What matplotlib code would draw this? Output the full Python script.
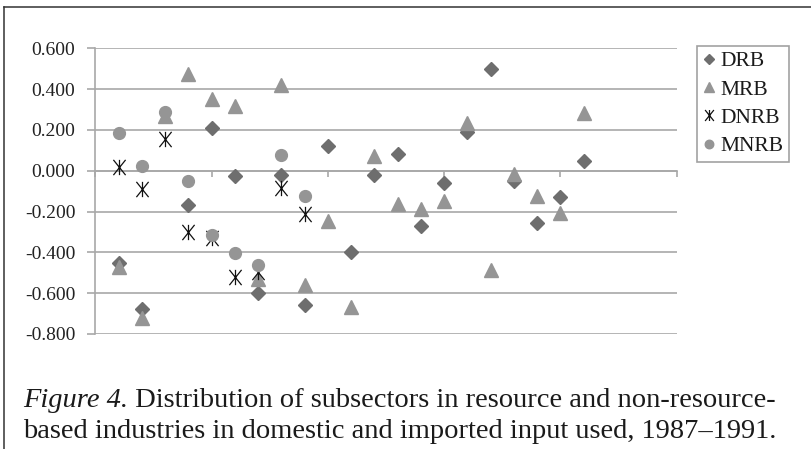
import numpy as np
import matplotlib
matplotlib.use("Agg")
import matplotlib.pyplot as plt
from matplotlib.path import Path
from matplotlib.lines import Line2D

plt.rcParams['axes.unicode_minus'] = False
plt.rcParams['font.family'] = ['Liberation Serif', 'DejaVu Serif']

nan = np.nan
# category positions (1..21) on a 0..25 value axis
positions = list(range(1, 22))
DRB = [-0.45, -0.68, nan, -0.17, 0.21, -0.025, -0.60, -0.02, -0.66, 0.12, -0.40,
       -0.02, 0.08, -0.27, -0.06, 0.19, 0.50, -0.05, -0.255, -0.13, 0.05]
MRB = [-0.47, -0.72, 0.27, 0.475, 0.35, 0.315, -0.53, 0.42, -0.56, -0.245, -0.67,
       0.07, -0.165, -0.19, -0.15, 0.235, -0.485, -0.015, -0.125, -0.205, 0.285]
DNRB = [0.02, -0.09, 0.155, -0.30, -0.33, -0.52, -0.495, -0.085, -0.21]
MNRB = [0.183, 0.023, 0.29, -0.05, -0.315, -0.405, -0.46, 0.075, -0.125]
series_names = ['DRB', 'MRB', 'DNRB', 'MNRB']
y_ticks = [-0.8, -0.6, -0.4, -0.2, 0.0, 0.2, 0.4, 0.6]
x_ticks = [0, 5, 10, 15, 20, 25]
caption_italic = "Figure 4."
caption_line1 = " Distribution of subsectors in resource and non-resource-"
caption_line2 = "based industries in domestic and imported input used, 1987\u20131991."

W, H = 811, 449
fig = plt.figure(figsize=(W / 100, H / 100), dpi=100)

# page frame lines (top and left)
fig.add_artist(Line2D([4 / W, 1.0], [1 - 7 / H, 1 - 7 / H], transform=fig.transFigure,
                      color='#333333', lw=1.1))
fig.add_artist(Line2D([4 / W, 4 / W], [0.0, 1 - 7 / H], transform=fig.transFigure,
                      color='#333333', lw=1.1))

left, right = 95.4, 676.7
top, bottom = 48.3, 333.9
ax = fig.add_axes([left / W, 1 - bottom / H, (right - left) / W, (bottom - top) / H])
ax.set_xlim(0, 25)
ax.set_ylim(-0.8, 0.6)

grid_c = '#a8a8a8'
ax.set_yticks(y_ticks)
ax.set_yticklabels([f"{v:.3f}" for v in y_ticks], fontsize=14, color='#222222')
ax.yaxis.grid(True, color=grid_c, lw=1.2)
ax.set_axisbelow(True)
ax.tick_params(axis='y', direction='out', length=5.5, width=1.2, color=grid_c, pad=9)
ax.set_xticks(x_ticks)
ax.set_xticklabels([])
ax.tick_params(axis='x', direction='out', length=4.5, width=1.2, color=grid_c)
for s in ['top', 'right']:
    ax.spines[s].set_visible(False)
ax.spines['left'].set_color(grid_c)
ax.spines['left'].set_linewidth(1.2)
ax.spines['bottom'].set_position(('data', 0))
ax.spines['bottom'].set_color(grid_c)
ax.spines['bottom'].set_linewidth(1.2)

star = Path([(-0.8, -1), (0.8, 1), (-0.8, 1), (0.8, -1), (0, -1), (0, 1)],
            [Path.MOVETO, Path.LINETO, Path.MOVETO, Path.LINETO, Path.MOVETO, Path.LINETO])

ax.plot(positions, DRB, ls='none', marker='D', ms=7.3, color='#6e6e6e', mec='#6e6e6e',
        label=series_names[0], zorder=3)
ax.plot(positions, MRB, ls='none', marker='^', ms=10, color='#959595', mec='#959595',
        label=series_names[1], zorder=4)
ax.plot(positions[:len(DNRB)], DNRB, ls='none', marker=star, ms=11, mfc='none',
        mec='#111111', mew=0.9, label=series_names[2], zorder=5)
ax.plot(positions[:len(MNRB)], MNRB, ls='none', marker='o', ms=8.5, color='#959595',
        mec='#959595', label=series_names[3], zorder=6)

leg = fig.legend(loc='upper left', bbox_to_anchor=(697 / W, 1 - 46 / H),
                 fontsize=15.5, frameon=True, fancybox=False, borderpad=0.25,
                 labelspacing=0.38, handlelength=0.6, handletextpad=0.25,
                 borderaxespad=0, markerscale=0.72)
leg.get_frame().set_edgecolor('#8a8a8a')
leg.get_frame().set_linewidth(1.2)
for t in leg.get_texts():
    t.set_color('#1a1a1a')

# caption
cap_size = 20.5
t1 = fig.text(23 / W, 1 - 407 / H, caption_italic, fontsize=cap_size, style='italic',
              va='baseline', ha='left', color='#1a1a1a')
fig.canvas.draw()
bb = t1.get_window_extent()
fig.text(bb.x1 / W, 1 - 407 / H, caption_line1, fontsize=cap_size, va='baseline',
         ha='left', color='#1a1a1a')
fig.text(23 / W, 1 - 438 / H, caption_line2, fontsize=cap_size, va='baseline',
         ha='left', color='#1a1a1a')

fig.savefig('out.png', dpi=100)
